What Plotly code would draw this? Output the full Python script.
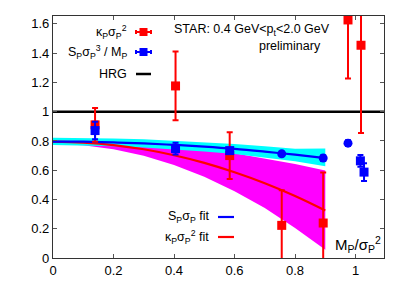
import plotly.graph_objects as go

# ---- data ----
kappa_x = [0.139, 0.405, 0.584, 0.756, 0.893, 0.975, 1.018]
kappa_y = [0.91, 1.176, 0.70, 0.223, 0.239, 1.627, 1.454]
kappa_err = [0.115, 0.235, 0.16, 0.24, 0.345, 0.40, 0.60]

skew_x = [0.139, 0.405, 0.584, 0.756, 0.893, 0.975, 1.016, 1.028]
skew_y = [0.871, 0.748, 0.734, 0.712, 0.683, 0.785, 0.664, 0.587]
skew_err = [0.06, 0.04, 0.02, 0.015, 0.02, 0.02, 0.04, 0.06]

fit_x = [0.0, 0.1, 0.2, 0.3, 0.4, 0.5, 0.6, 0.7, 0.8, 0.9]
skew_fit = [0.796, 0.795, 0.790, 0.783, 0.773, 0.761, 0.746, 0.727, 0.706, 0.683]
skew_fit_lo = [0.772, 0.770, 0.764, 0.755, 0.743, 0.728, 0.710, 0.687, 0.661, 0.627]
skew_fit_hi = [0.822, 0.821, 0.817, 0.811, 0.802, 0.792, 0.779, 0.764, 0.747, 0.748]
kappa_fit = [0.795, 0.789, 0.772, 0.743, 0.702, 0.650, 0.586, 0.511, 0.424, 0.325]
kappa_fit_lo = [0.780, 0.771, 0.744, 0.699, 0.636, 0.555, 0.456, 0.341, 0.205, 0.057]
kappa_fit_hi = [0.810, 0.807, 0.800, 0.787, 0.768, 0.745, 0.716, 0.681, 0.643, 0.598]

hrg_x = [0.0, 1.094]
hrg_y = [1.0, 1.0]

x_ticks = [0, 0.2, 0.4, 0.6, 0.8, 1.0]
x_tick_labels = ["0", "0.2", "0.4", "0.6", "0.8", "1"]
y_ticks = [0, 0.2, 0.4, 0.6, 0.8, 1.0, 1.2, 1.4, 1.6]
y_tick_labels = ["0", "0.2", "0.4", "0.6", "0.8", "1", "1.2", "1.4", "1.6"]

RED = "#ff0000"
BLUE = "#0000ff"
CYAN = "#00ffff"
MAGENTA = "#ff00ff"

fig = go.Figure()

# magenta band (kappa fit)
fig.add_trace(go.Scatter(x=fit_x + fit_x[::-1], y=kappa_fit_hi + kappa_fit_lo[::-1],
                         fill="toself", fillcolor=MAGENTA, line=dict(width=0),
                         mode="lines", hoverinfo="skip", showlegend=False))
# cyan band (skew fit)
fig.add_trace(go.Scatter(x=fit_x + fit_x[::-1], y=skew_fit_hi + skew_fit_lo[::-1],
                         fill="toself", fillcolor=CYAN, line=dict(width=0),
                         mode="lines", hoverinfo="skip", showlegend=False))
# HRG
fig.add_trace(go.Scatter(x=hrg_x, y=hrg_y, mode="lines",
                         line=dict(color="black", width=2.5), showlegend=False))
# fit lines
fig.add_trace(go.Scatter(x=fit_x, y=kappa_fit, mode="lines", line=dict(color=RED, width=2.2,
                         shape="spline"), showlegend=False))
fig.add_trace(go.Scatter(x=fit_x, y=skew_fit, mode="lines", line=dict(color=BLUE, width=2.2,
                         shape="spline"), showlegend=False))
# kappa points
fig.add_trace(go.Scatter(x=kappa_x, y=kappa_y, mode="markers",
                         marker=dict(symbol="square", size=9, color=RED),
                         error_y=dict(type="data", array=kappa_err, color=RED, thickness=2, width=3),
                         showlegend=False, cliponaxis=True))
# skew points
fig.add_trace(go.Scatter(x=skew_x, y=skew_y, mode="markers",
                         marker=dict(symbol=["square", "square", "square", "circle", "circle",
                                             "circle", "square", "square"],
                                     size=9, color=BLUE),
                         error_y=dict(type="data", array=skew_err, color=BLUE, thickness=2, width=3),
                         showlegend=False, cliponaxis=True))

# page offset of the plot div (default body margin) is compensated here
OFF = 8
W, H = 409 - OFF, 286 - OFF
L, R, T, B = 53 - OFF, 25, 16 - OFF, 28
PW, PH = W - L - R, H - T - B


def px(x):
    # x given in page pixels of the reference
    return (x - OFF - L) / PW


def py(y):
    return (H - B - (y - OFF)) / PH


FAM = "Liberation Sans, Arial, sans-serif"
font = dict(family=FAM, size=12.5, color="black")
tickfont = dict(family=FAM, size=13, color="black")
ann = []
shapes = []

# top-left legend
leg_rows = [
    (32, "κ<sub>P</sub>σ<sub>P</sub><sup>2</sup>", "mk", RED),
    (52, "S<sub>P</sub>σ<sub>P</sub><sup>3</sup> / M<sub>P</sub>", "mk", BLUE),
    (74, "HRG", "ln", "black"),
]
for yy, txt, kind, col in leg_rows:
    ann.append(dict(x=px(129), y=py(yy), xref="paper", yref="paper", text=txt, showarrow=False,
                    xanchor="right", yanchor="middle", font=font))
    if kind == "ln":
        shapes.append(dict(type="line", xref="paper", yref="paper", x0=px(136), x1=px(151),
                           y0=py(yy), y1=py(yy), line=dict(color=col, width=2.5)))
    else:
        shapes.append(dict(type="line", xref="paper", yref="paper", x0=px(136), x1=px(151),
                           y0=py(yy), y1=py(yy), line=dict(color=col, width=2)))
        for xx in (136, 151):
            shapes.append(dict(type="line", xref="paper", yref="paper", x0=px(xx), x1=px(xx),
                               y0=py(yy - 2), y1=py(yy + 2), line=dict(color=col, width=2)))
        shapes.append(dict(type="rect", xref="paper", yref="paper", x0=px(139.5), x1=px(147.5),
                           y0=py(yy + 4), y1=py(yy - 4), line=dict(width=0), fillcolor=col))

# bottom legend
for yy, txt, col in [(217, "S<sub>P</sub>σ<sub>P</sub> fit", BLUE),
                     (237, "κ<sub>P</sub>σ<sub>P</sub><sup>2</sup> fit", RED)]:
    ann.append(dict(x=px(211), y=py(yy), xref="paper", yref="paper", text=txt, showarrow=False,
                    xanchor="right", yanchor="middle", font=font))
    shapes.append(dict(type="line", xref="paper", yref="paper", x0=px(218), x1=px(234),
                       y0=py(yy), y1=py(yy), line=dict(color=col, width=2.2)))

ann.append(dict(x=px(172), y=py(30), xref="paper", yref="paper",
                text="STAR: 0.4 GeV&lt;p<sub>t</sub>&lt;2.0 GeV", showarrow=False,
                xanchor="left", yanchor="middle", font=font))
ann.append(dict(x=px(290), y=py(46), xref="paper", yref="paper", text="preliminary",
                showarrow=False, xanchor="center", yanchor="middle", font=font))
ann.append(dict(x=px(333), y=py(244), xref="paper", yref="paper",
                text="M<sub>P</sub>/σ<sub>P</sub><sup>2</sup>", showarrow=False,
                xanchor="left", yanchor="middle",
                font=dict(family=FAM, size=15, color="black")))

axis_common = dict(showgrid=False, zeroline=False, showline=True, linecolor="#333333",
                   linewidth=1.2, mirror="ticks", ticks="inside", ticklen=4, tickcolor="#555555",
                   tickfont=tickfont)

fig.update_layout(
    width=W, height=H, margin=dict(l=L, r=R, t=T, b=B),
    plot_bgcolor="white", paper_bgcolor="white",
    xaxis=dict(range=[0, 1.094], tickvals=x_ticks, ticktext=x_tick_labels, **axis_common),
    yaxis=dict(range=[0, 1.654], tickvals=y_ticks, ticktext=y_tick_labels, **axis_common),
    annotations=ann, shapes=shapes, showlegend=False,
)

fig.write_html("out.html", config={"displayModeBar": False})
